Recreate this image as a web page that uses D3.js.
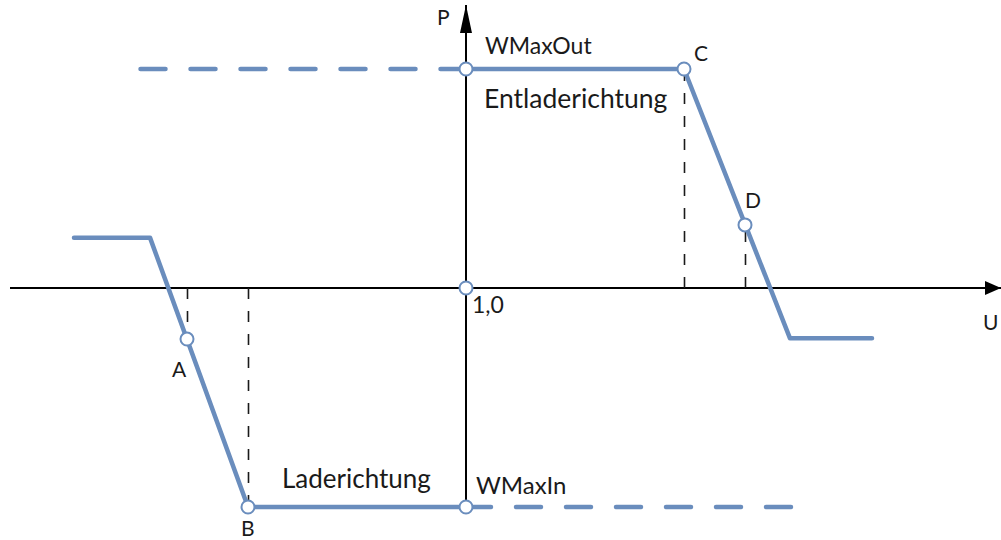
<!DOCTYPE html>
<html>
<head>
<meta charset="utf-8">
<script src="https://cdn.jsdelivr.net/npm/d3@7"></script>
<style>
  html, body { margin: 0; padding: 0; background: #fff; }
  svg { display: block; }
  text { font-family: Lato, 'Open Sans', sans-serif; fill: #1a1a1a; }
</style>
</head>
<body>
<div id="chart"></div>
<script>
// characteristic curve, U in p.u., P relative to WMax
const curveU = [0.608, 0.684, 0.782, 1.0]
const curveP = [0.23, 0.23, -1, -1]
const curve2U = [1.0, 1.218, 1.324, 1.406]
const curve2P = [1, 1, -0.23, -0.23]

// dashed continuations of the power limits
const limitOutU = [0.6745, 1.0]
const limitInU = [1.0, 1.327]

// named points
const pointNames = ['A', 'B', 'C', 'D']
const pointU = [0.721, 0.782, 1.218, 1.279]
const pointP = [-0.233, -1, 1, 0.288]

// open circles on the P axis
const axisMarkP = [1, 0, -1]

const uDomain = [0.544, 1.535]
const pDomain = [-1, 1.292]

const width = 1001
const height = 540
const blue = '#6a8dbd'

const x = d3.scaleLinear().domain(uDomain).range([10, 1001])
const y = d3.scaleLinear().domain([-1, 1]).range([507, 69])

const svg = d3.select('#chart').append('svg')
  .attr('width', width)
  .attr('height', height)

const defs = svg.append('defs')
defs.append('marker')
  .attr('id', 'arrowX')
  .attr('viewBox', '0 0 16 14')
  .attr('refX', 16).attr('refY', 7)
  .attr('markerWidth', 16).attr('markerHeight', 14)
  .attr('markerUnits', 'userSpaceOnUse')
  .attr('orient', 'auto')
  .append('path').attr('d', 'M0,0L16,7L0,14Z').attr('fill', '#000')
defs.append('marker')
  .attr('id', 'arrowY')
  .attr('viewBox', '0 0 28 12')
  .attr('refX', 28).attr('refY', 6)
  .attr('markerWidth', 28).attr('markerHeight', 12)
  .attr('markerUnits', 'userSpaceOnUse')
  .attr('orient', 'auto')
  .append('path').attr('d', 'M0,0L28,6L0,12Z').attr('fill', '#000')

// axes
svg.append('line')
  .attr('x1', x(uDomain[0])).attr('x2', x(uDomain[1]))
  .attr('y1', y(0)).attr('y2', y(0))
  .attr('stroke', '#000').attr('stroke-width', 2)
  .attr('marker-end', 'url(#arrowX)')
svg.append('line')
  .attr('x1', x(1)).attr('x2', x(1))
  .attr('y1', y(pDomain[0])).attr('y2', y(pDomain[1]))
  .attr('stroke', '#000').attr('stroke-width', 2)
  .attr('marker-end', 'url(#arrowY)')

// helper dashed drop lines from the U axis to points
svg.selectAll('line.drop')
  .data(pointU.map((u, i) => ({ u, p: pointP[i] })))
  .join('line')
  .attr('class', 'drop')
  .attr('x1', d => Math.round(x(d.u)) + 0.5).attr('x2', d => Math.round(x(d.u)) + 0.5)
  .attr('y1', y(0)).attr('y2', d => y(d.p))
  .attr('stroke', '#1a1a1a')
  .attr('stroke-width', 1.6)
  .attr('stroke-dasharray', '11,12')

const line = d3.line().x(d => x(d[0])).y(d => y(d[1]))

// dashed limit lines
svg.append('path')
  .datum(limitOutU.map(u => [u, 1]))
  .attr('d', line)
  .attr('fill', 'none').attr('stroke', blue)
  .attr('stroke-width', 4.5).attr('stroke-linecap', 'round')
  .attr('stroke-dasharray', '25,25')
svg.append('path')
  .datum(limitInU.map(u => [u, -1]))
  .attr('d', line)
  .attr('fill', 'none').attr('stroke', blue)
  .attr('stroke-width', 4.5).attr('stroke-linecap', 'round')
  .attr('stroke-dasharray', '25,25')

// solid curves
;[[curveU, curveP], [curve2U, curve2P]].forEach(([us, ps]) => {
  svg.append('path')
    .datum(us.map((u, i) => [u, ps[i]]))
    .attr('d', line)
    .attr('fill', 'none').attr('stroke', blue)
    .attr('stroke-width', 4.5)
    .attr('stroke-linecap', 'round')
    .attr('stroke-linejoin', 'round')
})

// open circles
const circles = pointU.map((u, i) => [u, pointP[i]])
  .concat(axisMarkP.map(p => [1, p]))
svg.selectAll('circle.pt')
  .data(circles)
  .join('circle')
  .attr('class', 'pt')
  .attr('cx', d => x(d[0])).attr('cy', d => y(d[1]))
  .attr('r', 6.5)
  .attr('fill', '#fff').attr('stroke', blue).attr('stroke-width', 2)

// point labels
const labelOffsets = { A: [-15, 38], B: [-7, 29], C: [10, -8], D: [0, -17] }
svg.selectAll('text.pname')
  .data(pointNames)
  .join('text')
  .attr('class', 'pname')
  .attr('x', (d, i) => x(pointU[i]) + labelOffsets[d][0])
  .attr('y', (d, i) => y(pointP[i]) + labelOffsets[d][1])
  .attr('font-size', 21)
  .text(d => d)

// axis and region texts
const txt = (s, px, py, size) => svg.append('text')
  .attr('x', px).attr('y', py).attr('font-size', size).text(s)

txt('P', x(1) - 29, y(pDomain[1]) + 20, 21)
txt('U', x(uDomain[1]) - 18, y(0) + 42, 21)
txt('1,0', x(1) + 6, y(0) + 25, 23)
txt('WMaxOut', x(1) + 19, y(1) - 15, 23)
txt('Entladerichtung', x(1) + 18, y(1) + 39, 26.5)
txt('Laderichtung', x(0.782) + 34, y(-1) - 19, 26)
txt('WMaxIn', x(1) + 10, y(-1) - 13, 24)
</script>
</body>
</html>
